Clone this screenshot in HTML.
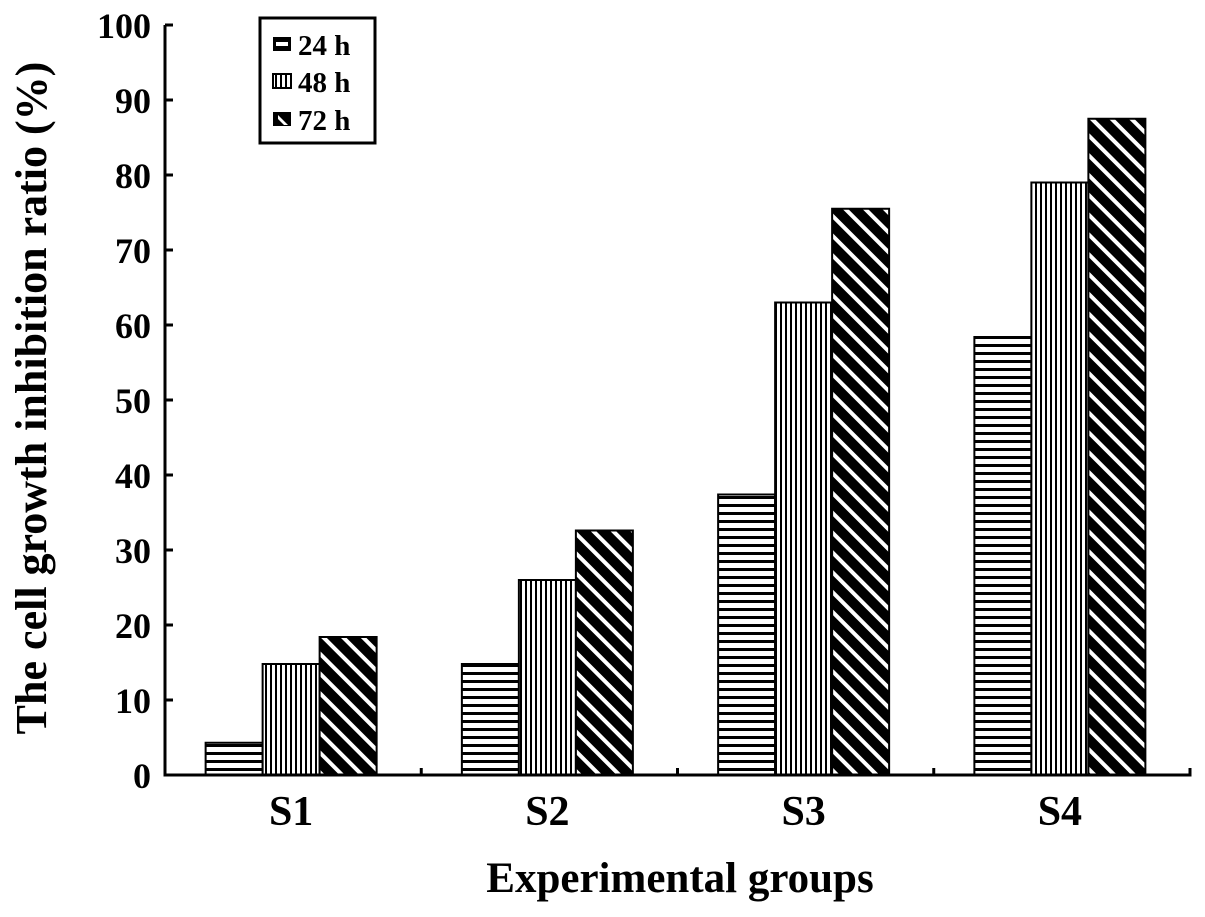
<!DOCTYPE html>
<html><head><meta charset="utf-8"><style>
body{margin:0;background:#fff;}
svg text{font-family:"Liberation Serif",serif;font-weight:bold;fill:#000;}
</style></head><body>
<svg width="1205" height="912" viewBox="0 0 1205 912" xmlns="http://www.w3.org/2000/svg">
<defs>
<pattern id="ph" patternUnits="userSpaceOnUse" width="10" height="8"><rect width="10" height="8" fill="#fff"/><rect y="0" width="10" height="3" fill="#000"/></pattern>
<pattern id="pv" patternUnits="userSpaceOnUse" width="5" height="10"><rect width="5" height="10" fill="#fff"/><rect x="0" width="2" height="10" fill="#000"/></pattern>
<pattern id="pd" patternUnits="userSpaceOnUse" width="14" height="14" patternTransform="rotate(-45)"><rect width="14" height="14" fill="#000"/><rect x="0" width="4" height="14" fill="#fff"/></pattern>
</defs>
<g id="plot"></g>
<g>
<rect x="260" y="18" width="115" height="125" fill="#fff" stroke="#000" stroke-width="3"/>
<rect x="273" y="37" width="18" height="14" fill="#000"/><rect x="276" y="42" width="12" height="4" fill="#fff"/>
<text x="298" y="55" font-size="29">24 h</text>
<rect x="273" y="74" width="18" height="14" fill="url(#pv)" stroke="#000" stroke-width="2"/>
<text x="298" y="92" font-size="29">48 h</text>
<rect x="273" y="112" width="18" height="14" fill="#000"/><path d="M278 115 L288 125 L284 125 L278 119Z" fill="#fff"/>
<text x="298" y="130" font-size="29">72 h</text>
</g>
<text x="680" y="892" font-size="43" text-anchor="middle">Experimental groups</text>
<text transform="translate(46,398) rotate(-90)" font-size="44" text-anchor="middle">The cell growth inhibition ratio (%)</text>
</svg>
<script>
const categories=["S1","S2","S3","S4"];
const series24=[4.3,14.8,37.4,58.4];
const series48=[14.8,26.0,63.0,79.0];
const series72=[18.4,32.6,75.5,87.5];
const yTicks=[0,10,20,30,40,50,60,70,80,90,100];
const ns="http://www.w3.org/2000/svg";
const g=document.getElementById('plot');
const L=165,R=1190,T=25,B=775,yMax=100;
const y=v=>B-(v/yMax)*(B-T);
const gw=(R-L)/categories.length;
const xc=i=>L+gw*(i+0.5)-2;
const bw=57;
function mk(t,a){const e=document.createElementNS(ns,t);for(const k in a)e.setAttribute(k,a[k]);g.appendChild(e);return e;}
const sers=[series24,series48,series72],fills=["url(#ph)","url(#pv)","url(#pd)"];
sers.forEach((s,si)=>s.forEach((v,i)=>{
 const r=mk('rect',{x:xc(i)+(si-1.5)*bw,y:y(v),width:bw,height:B-y(v),fill:fills[si],stroke:'#000','stroke-width':2});
 
 
}));
const ax=mk('path',{d:`M${L} ${T} V${B} H${R} V${B-7}`,fill:'none',stroke:'#000','stroke-width':3});


yTicks.forEach(t=>{
 const tk=mk('line',{x1:L,x2:L+8,y1:y(t),y2:y(t),stroke:'#000','stroke-width':3});
 
 
 const tx=mk('text',{x:L-14,y:y(t)+13,'font-size':36,'text-anchor':'end'});
 tx.textContent=t;
 
 
});
for(let i=1;i<categories.length;i++){
 const tk=mk('line',{x1:L+gw*i,x2:L+gw*i,y1:B,y2:B-7,stroke:'#000','stroke-width':3});
 
 
}
categories.forEach((c,i)=>{
 const tx=mk('text',{x:xc(i),y:B+50,'font-size':42,'text-anchor':'middle'});
 tx.textContent=c;
 
 
});
</script>
</body></html>
